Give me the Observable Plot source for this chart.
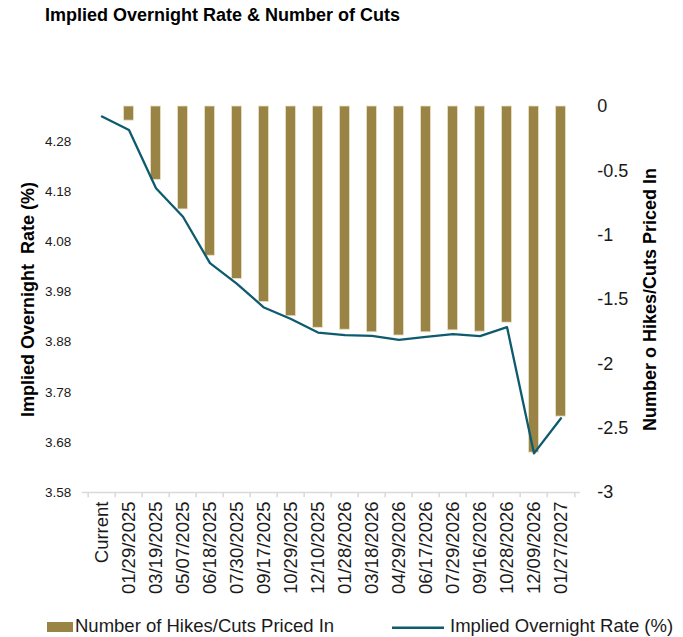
<!DOCTYPE html>
<html>
<head>
<meta charset="utf-8">
<script src="https://cdn.jsdelivr.net/npm/d3@7"></script>
<script src="https://cdn.jsdelivr.net/npm/@observablehq/plot@0.6"></script>
<style>
  html, body { margin: 0; padding: 0; background: #fff; }
  #wrap { position: relative; width: 683px; height: 637px; font-family: "Liberation Sans", Arial, sans-serif; }
  #title { position: absolute; left: 45px; top: 5px; font-size: 18px; line-height: 20px; font-weight: bold; color: #000; white-space: nowrap; }
  #chart { position: absolute; left: 0; top: 40px; width: 683px; height: 570px; }
  #chart svg { position: absolute; left: 0; top: 0; overflow: visible; }
  #legend { position: absolute; left: 0; top: 605px; }
</style>
</head>
<body>
<div id="wrap">
  <div id="title">Implied Overnight Rate &amp; Number of Cuts</div>
  <div id="chart"></div>
  <svg id="legend" width="683" height="32"></svg>
</div>
<script>
const categories = ["Current","01/29/2025","03/19/2025","05/07/2025","06/18/2025","07/30/2025","09/17/2025","10/29/2025","12/10/2025","01/28/2026","03/18/2026","04/29/2026","06/17/2026","07/29/2026","09/16/2026","10/28/2026","12/09/2026","01/27/2027"];
const cutsPricedIn = [null, -0.11, -0.57, -0.80, -1.16, -1.34, -1.52, -1.63, -1.72, -1.735, -1.755, -1.78, -1.755, -1.74, -1.75, -1.68, -2.69, -2.41];
const impliedRate = [4.330, 4.303, 4.187, 4.130, 4.0375, 3.996, 3.949, 3.926, 3.899, 3.894, 3.8925, 3.8845, 3.8905, 3.896, 3.892, 3.910, 3.658, 3.728];
const leftTicks = [3.58, 3.68, 3.78, 3.88, 3.98, 4.08, 4.18, 4.28];
const rightTicks = [0, -0.5, -1, -1.5, -2, -2.5, -3];
const leftTitle = "Implied Overnight  Rate (%)";
const rightTitle = "Number o Hikes/Cuts Priced In";
const barLabel = "Number of Hikes/Cuts Priced In";
const lineLabel = "Implied Overnight Rate (%)";

const table = categories.map((c, i) => ({cat: c, cut: cutsPricedIn[i], rate: impliedRate[i]}));

const W = 683, H = 570, MT = 66, MB = 118, ML = 81.7, MR = 103;
const barColor = "#9a8445", lineColor = "#0e5b6f", axisGray = "#d9d9d9";
const font = "Liberation Sans, Arial, sans-serif";
const half = (W - ML - MR) / categories.length / 2;

const common = {
  width: W, height: H, marginTop: MT, marginBottom: MB, marginLeft: ML, marginRight: MR,
  style: {fontFamily: font, background: "transparent", overflow: "visible", color: "#1a1a1a"}
};

const bars = Plot.plot({
  ...common,
  x: {type: "band", domain: categories, padding: 0},
  y: {domain: [-3, 0]},
  marks: [
    Plot.barY(table.filter(d => d.cut != null), {x: "cat", y1: 0, y2: "cut", fill: barColor, stroke: "#ebe2c6", strokeWidth: 0.8, insetLeft: 8.5, insetRight: 8.5}),
    Plot.ruleY([-3], {stroke: axisGray, strokeWidth: 1.5}),
    Plot.ruleX(categories, {x: d => d, y1: -3, y2: -3.04, dx: -half, stroke: axisGray, strokeWidth: 1.5}),
    Plot.ruleX([categories[categories.length - 1]], {x: d => d, y1: -3, y2: -3.04, dx: half, stroke: axisGray, strokeWidth: 1.5}),
    Plot.axisX({tickRotate: -90, tickSize: 0, tickPadding: 9, fontSize: 18.5, fill: "#1a1a1a", label: null}),
    Plot.axisY({anchor: "right", ticks: rightTicks, tickSize: 0, tickPadding: 16.7, fontSize: 18, fill: "#1a1a1a", tickFormat: d => String(d), label: null}),
    Plot.text([rightTitle], {text: d => d, frameAnchor: "right", rotate: -90, dx: 75, lineAnchor: "bottom", textAnchor: "middle", fontSize: 18, fontWeight: "bold", fill: "#000"})
  ]
});

const line = Plot.plot({
  ...common,
  x: {type: "band", domain: categories, padding: 0, axis: null},
  y: {domain: [3.58, 4.35]},
  marks: [
    Plot.lineY(table, {x: "cat", y: "rate", stroke: lineColor, strokeWidth: 2.3}),
    Plot.axisY({anchor: "left", ticks: leftTicks, tickSize: 0, tickPadding: 11, fontSize: 13.5, fill: "#1a1a1a", tickFormat: d => d.toFixed(2), label: null}),
    Plot.text([leftTitle], {text: d => d, frameAnchor: "left", rotate: -90, dx: -48.4, lineAnchor: "bottom", textAnchor: "middle", fontSize: 18, fontWeight: "bold", fill: "#000"})
  ]
});

const chart = document.getElementById("chart");
chart.appendChild(bars);
chart.appendChild(line);

// legend
const lg = d3.select("#legend").style("font-family", font);
lg.append("rect").attr("x", 47).attr("y", 17).attr("width", 26).attr("height", 10).attr("fill", barColor);
lg.append("text").attr("x", 75).attr("y", 27).attr("font-size", 18.5).attr("fill", "#1a1a1a").text(barLabel);
lg.append("line").attr("x1", 392).attr("x2", 444).attr("y1", 22.7).attr("y2", 22.7).attr("stroke", lineColor).attr("stroke-width", 2.5);
lg.append("text").attr("x", 450).attr("y", 27).attr("font-size", 18.5).attr("fill", "#1a1a1a").text(lineLabel);
</script>
</body>
</html>
